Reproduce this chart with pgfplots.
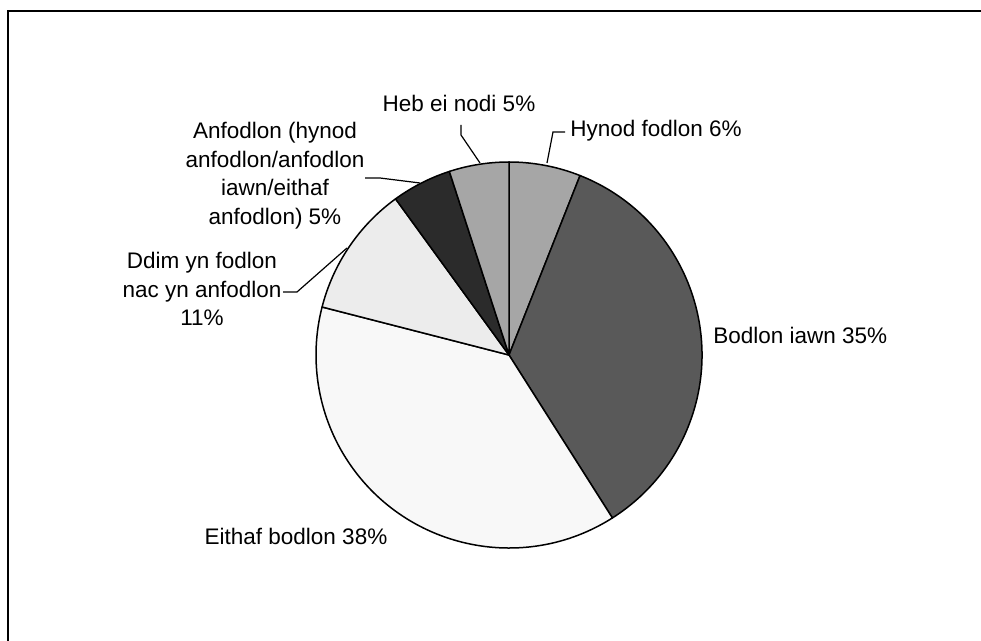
\documentclass[border=0pt]{standalone}
\usepackage{pgfplots}
\pgfplotsset{compat=1.18}
\usepackage{pgfplotstable}
\usepackage{fontspec}
\setmainfont{Liberation Sans}

% slice fills, clockwise from 12 o'clock
\definecolor{c0}{HTML}{A6A6A6}
\definecolor{c1}{HTML}{595959}
\definecolor{c2}{HTML}{F8F8F8}
\definecolor{c3}{HTML}{ECECEC}
\definecolor{c4}{HTML}{2B2B2B}
\definecolor{c5}{HTML}{A6A6A6}

% share in percent
\pgfplotstableread{
idx value
0 6
1 35
2 38
3 11
4 5
5 5
}\piedata

\begin{document}
\begin{tikzpicture}[font=\fontsize{11.25}{14.25}\selectfont]
\begin{axis}[
    hide axis,
    x=96.5pt, y=96.5pt,
    xmin=-1, xmax=1, ymin=-1, ymax=1,
    enlargelimits=false,
    clip=false,
    anchor=center,
    at={(254.5pt,-177.5pt)},
]
\pgfplotsextra{
    \pgfplotstablegetrowsof{\piedata}
    \pgfmathtruncatemacro\nrows{\pgfplotsretval-1}
    \xdef\angstart{90}
    \foreach \i in {0,...,\nrows}{
        \pgfplotstablegetelem{\i}{value}\of{\piedata}
        \pgfmathsetmacro\angend{\angstart-3.6*\pgfplotsretval}
        \filldraw[fill=c\i, draw=black, line width=0.75pt, line join=round]
            (axis cs:0,0) -- (axis cs:{cos(\angstart)},{sin(\angstart)})
            arc[start angle=\angstart, end angle=\angend, radius=96.5pt] -- cycle;
        \xdef\angstart{\angend}
    }
}
\end{axis}

% labels, leaders and frame in pixel units (origin top left)
\begin{scope}[x=0.5pt, y=-0.5pt]
    \draw[line width=1pt] (8,641) -- (8,11) -- (981,11);
    \draw[line width=0.6pt] (547,163) -- (553,132) -- (565,132);
    \draw[line width=0.6pt] (461,125) -- (461,135) -- (480,163);
    \draw[line width=0.6pt] (365,178) -- (380,178) -- (420,183);
    \draw[line width=0.6pt] (283,292) -- (297,292) -- (347,248);
    \node[anchor=base west, inner sep=0] at (570,137) {Hynod fodlon 6\%};
    \node[anchor=base, inner sep=0] at (459,112) {Heb ei nodi 5\%};
    \node[anchor=north, align=center, inner sep=0] at (275,122)
        {Anfodlon (hynod\\anfodlon/anfodlon\\iawn/eithaf\\anfodlon) 5\%};
    \node[anchor=north, align=center, inner sep=0] at (202,252)
        {Ddim yn fodlon\\nac yn anfodlon\\11\%};
    \node[anchor=base west, inner sep=0] at (713,344) {Bodlon iawn 35\%};
    \node[anchor=base, inner sep=0] at (296,545) {Eithaf bodlon 38\%};
\end{scope}

\pgfresetboundingbox
\path (0,0) rectangle (490.5pt,-320.5pt);
\end{tikzpicture}
\end{document}
